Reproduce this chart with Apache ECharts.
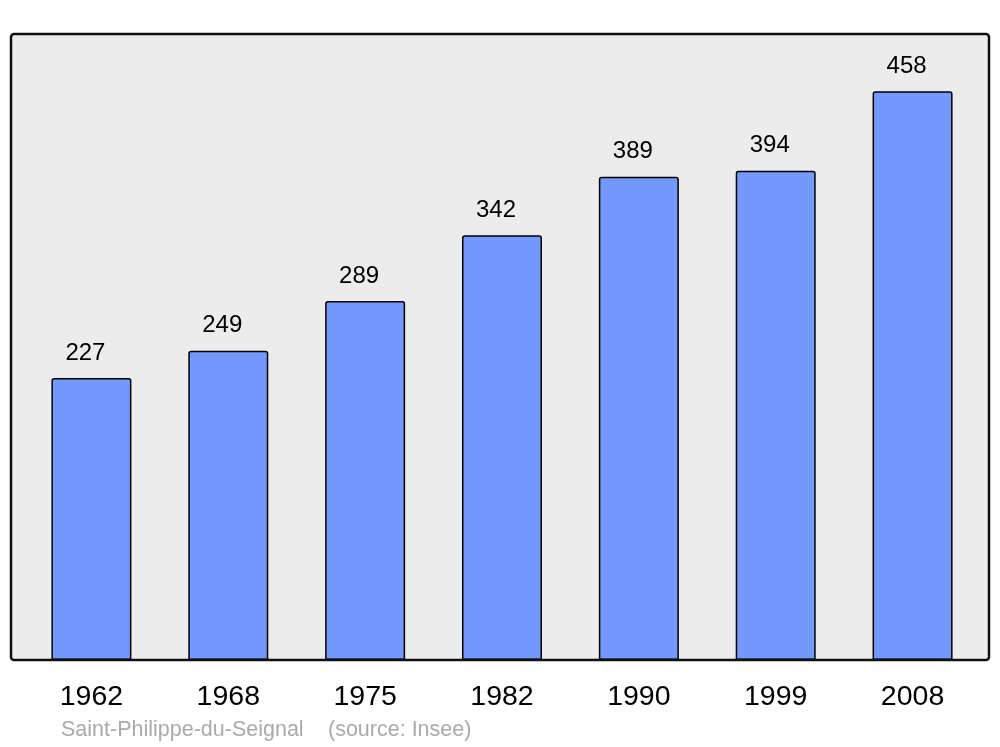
<!DOCTYPE html>
<html>
<head>
<meta charset="utf-8">
<script src="https://cdn.jsdelivr.net/npm/echarts@6/dist/echarts.min.js"></script>
<style>html,body{margin:0;padding:0;background:#fff;}#c{width:1000px;height:747px;}</style>
</head>
<body>
<div id="c"></div>
<script>
const years = ['1962', '1968', '1975', '1982', '1990', '1999', '2008'];
const population = [227, 249, 289, 342, 389, 394, 458];
const placeName = 'Saint-Philippe-du-Seignal';
const sourceText = '(source: Insee)';

const chart = echarts.init(document.getElementById('c'), null, {renderer: 'canvas'});
const font = '"Liberation Sans", Arial, sans-serif';
chart.setOption({
  animation: false,
  backgroundColor: '#ffffff',
  textStyle: {fontFamily: font},
  grid: {left: 23, top: 34, width: 958, height: 626},
  xAxis: {
    type: 'category',
    data: years,
    axisLine: {show: false},
    axisTick: {show: false},
    axisLabel: {fontSize: 28.5, color: '#000', margin: 23, fontFamily: font}
  },
  yAxis: {
    type: 'value', min: 0, max: 504, show: false,
    splitLine: {show: false}
  },
  graphic: [
    {type: 'rect', z: -10, shape: {x: 11, y: 34, width: 978, height: 626, r: 3},
     style: {fill: '#ececec', stroke: null}},
    {type: 'rect', z: 100, shape: {x: 11, y: 34, width: 978, height: 626, r: 3},
     style: {fill: null, stroke: '#111', lineWidth: 2.5}},
    {type: 'text', left: 61, top: 719, z: 100,
     style: {text: placeName, fill: '#aaaaaa', fontSize: 21.5, fontFamily: font}},
    {type: 'text', left: 328, top: 719, z: 100,
     style: {text: sourceText, fill: '#aaaaaa', fontSize: 21.5, fontFamily: font}}
  ],
  series: [{
    type: 'bar',
    data: population,
    barWidth: 80,
    itemStyle: {color: '#7399ff', borderColor: '#000', borderWidth: 1.5, borderRadius: [2, 2, 0, 0]},
    label: {
      show: true, position: 'top', distance: 13, offset: [-6, 0],
      fontSize: 24, color: '#000', fontFamily: font
    }
  }]
});
</script>
</body>
</html>
